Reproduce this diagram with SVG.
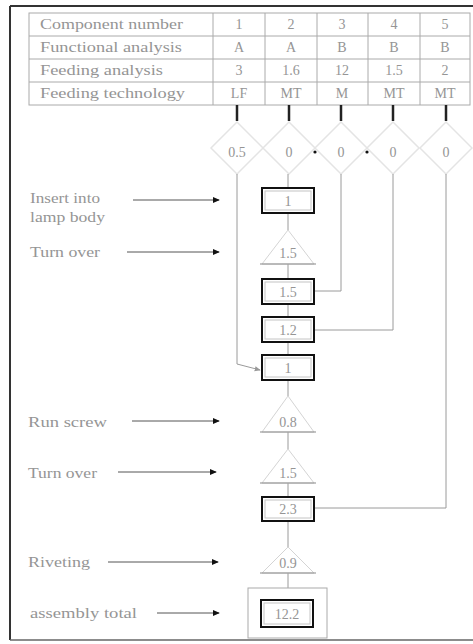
<svg xmlns="http://www.w3.org/2000/svg" width="473" height="644" viewBox="0 0 473 644">
<style>
  .t{font-family:"Liberation Serif","Times New Roman",serif;font-size:14px;fill:#959595}
  .c{text-anchor:middle}
  .grid{stroke:#aaa;stroke-width:1;fill:none}
  .frame{stroke:#333;stroke-width:2;fill:none}
  .ln{stroke:#9a9a9a;stroke-width:1;fill:none}
  .tick{stroke:#222;stroke-width:2.5}
  .box{fill:#fff;stroke:#111;stroke-width:2}
  .inner{fill:none;stroke:#c4c4c4;stroke-width:1}
  .tri{fill:#fff;stroke:#d4d4d4;stroke-width:1}
  .base{stroke:#8a8a8a;stroke-width:1.2}
  .dia{fill:none;stroke:#e4e4e4;stroke-width:1.5}
  .arr{stroke:#555;stroke-width:1;fill:none;marker-end:url(#ah)}
</style>
<defs>
  <marker id="ah" viewBox="0 0 8 8" refX="7" refY="4" markerWidth="7" markerHeight="7" markerUnits="userSpaceOnUse" orient="auto">
    <path d="M0,0.5 L8,4 L0,7.5 Z" fill="#111"/>
  </marker>
  <marker id="ah2" viewBox="0 0 8 8" refX="7" refY="4" markerWidth="6" markerHeight="6" markerUnits="userSpaceOnUse" orient="auto">
    <path d="M0,0.5 L8,4 L0,7.5 Z" fill="#999"/>
  </marker>
</defs>
<rect width="473" height="644" fill="#fff"/>
<g id="frame">
  <line class="frame" x1="10" y1="6" x2="10" y2="640"/>
  <line class="frame" x1="10" y1="6" x2="473" y2="6"/>
  <line x1="10" y1="640" x2="473" y2="640" stroke="#666" stroke-width="1.5"/>
</g>
<g id="table">
  <rect class="grid" x="29" y="13" width="441" height="92"/>
  <line class="grid" x1="29" y1="36" x2="470" y2="36"/>
  <line class="grid" x1="29" y1="59" x2="470" y2="59"/>
  <line class="grid" x1="29" y1="82" x2="470" y2="82"/>
  <line class="grid" x1="213" y1="13" x2="213" y2="105"/>
  <line class="grid" x1="265" y1="13" x2="265" y2="105"/>
  <line class="grid" x1="317" y1="13" x2="317" y2="105"/>
  <line class="grid" x1="368" y1="13" x2="368" y2="105"/>
  <line class="grid" x1="420" y1="13" x2="420" y2="105"/>
  <text class="t" x="40" y="29" textLength="143" lengthAdjust="spacingAndGlyphs">Component number</text>
  <text class="t" x="40" y="52" textLength="142" lengthAdjust="spacingAndGlyphs">Functional analysis</text>
  <text class="t" x="40" y="75" textLength="123" lengthAdjust="spacingAndGlyphs">Feeding analysis</text>
  <text class="t" x="40" y="98" textLength="145" lengthAdjust="spacingAndGlyphs">Feeding technology</text>
  <text class="t c" x="239" y="29">1</text><text class="t c" x="291" y="29">2</text><text class="t c" x="342" y="29">3</text><text class="t c" x="394" y="29">4</text><text class="t c" x="445" y="29">5</text>
  <text class="t c" x="239" y="52">A</text><text class="t c" x="291" y="52">A</text><text class="t c" x="342" y="52">B</text><text class="t c" x="394" y="52">B</text><text class="t c" x="445" y="52">B</text>
  <text class="t c" x="239" y="75">3</text><text class="t c" x="291" y="75">1.6</text><text class="t c" x="342" y="75">12</text><text class="t c" x="394" y="75">1.5</text><text class="t c" x="445" y="75">2</text>
  <text class="t c" x="239" y="98">LF</text><text class="t c" x="291" y="98">MT</text><text class="t c" x="342" y="98">M</text><text class="t c" x="394" y="98">MT</text><text class="t c" x="445" y="98">MT</text>
</g>
<g id="diamonds">
  <g id="d1"><polygon class="dia" points="237,122 263,148 237,174 211,148"/><text class="t c" x="237" y="157">0.5</text></g>
  <g id="d2"><polygon class="dia" points="289,122 315,148 289,174 263,148"/><text class="t c" x="289" y="157">0</text></g>
  <g id="d3"><polygon class="dia" points="341,122 367,148 341,174 315,148"/><text class="t c" x="341" y="157">0</text></g>
  <g id="d4"><polygon class="dia" points="393,122 419,148 393,174 367,148"/><text class="t c" x="393" y="157">0</text></g>
  <g id="d5"><polygon class="dia" points="446,122 472,148 446,174 420,148"/><text class="t c" x="446" y="157">0</text></g>
  <circle cx="315" cy="152" r="1.6" fill="#111"/>
  <circle cx="367" cy="152" r="1.6" fill="#111"/>
</g>
<g id="connectors">
  <line class="tick" x1="237" y1="105" x2="237" y2="121"/>
  <line class="tick" x1="289" y1="105" x2="289" y2="121" stroke="#777"/>
  <line class="tick" x1="341" y1="105" x2="341" y2="121" stroke="#555"/>
  <line class="tick" x1="393" y1="105" x2="393" y2="121"/>
  <line class="tick" x1="446" y1="105" x2="446" y2="121" stroke="#777"/>
  <polyline class="ln" points="237,174 237,364 260,370" marker-end="url(#ah2)"/>
  <polyline class="ln" points="341,174 341,291 315,291"/>
  <polyline class="ln" points="393,174 393,330 315,330"/>
  <polyline class="ln" points="446,174 446,508 315,508"/>
  <line class="ln" x1="288" y1="174" x2="288" y2="188"/>
  <line class="ln" x1="288" y1="213" x2="288" y2="230"/>
  <line class="ln" x1="288" y1="264" x2="288" y2="279"/>
  <line class="ln" x1="288" y1="304" x2="288" y2="317"/>
  <line class="ln" x1="288" y1="342" x2="288" y2="355"/>
  <line class="ln" x1="288" y1="380" x2="288" y2="396"/>
  <line class="ln" x1="288" y1="432" x2="288" y2="449"/>
  <line class="ln" x1="288" y1="483" x2="288" y2="497"/>
  <line class="ln" x1="288" y1="521" x2="288" y2="547"/>
  <line class="ln" x1="288" y1="573" x2="288" y2="600"/>
  <line class="arr" x1="133" y1="200" x2="219" y2="200"/>
  <line class="arr" x1="127" y1="252" x2="219" y2="252"/>
  <line class="arr" x1="132" y1="421" x2="219" y2="421"/>
  <line class="arr" x1="118" y1="472" x2="216" y2="472"/>
  <line class="arr" x1="108" y1="562" x2="218" y2="562"/>
  <line class="arr" x1="157" y1="613" x2="219" y2="613"/>
</g>
<g id="labels">
  <text class="t" x="30" y="203" textLength="70" lengthAdjust="spacingAndGlyphs">Insert into</text>
  <text class="t" x="30" y="222" textLength="75" lengthAdjust="spacingAndGlyphs">lamp body</text>
  <text class="t" x="30" y="257" textLength="70" lengthAdjust="spacingAndGlyphs">Turn over</text>
  <text class="t" x="28" y="427" textLength="79" lengthAdjust="spacingAndGlyphs">Run screw</text>
  <text class="t" x="28" y="478" textLength="69" lengthAdjust="spacingAndGlyphs">Turn over</text>
  <text class="t" x="28" y="567" textLength="62" lengthAdjust="spacingAndGlyphs">Riveting</text>
  <text class="t" x="30" y="618" textLength="107" lengthAdjust="spacingAndGlyphs">assembly total</text>
</g>
<g id="n-box1"><rect class="box" x="262" y="188" width="52" height="25"/><rect class="inner" x="265" y="191" width="46" height="19"/><text class="t c" x="288" y="206">1</text></g>
<g id="n-tri1"><polygon class="tri" points="288,230 314,264 262,264"/><line class="base" x1="260" y1="264" x2="316" y2="264"/><text class="t c" x="288" y="258">1.5</text></g>
<g id="n-box15"><rect class="box" x="262" y="279" width="52" height="25"/><rect class="inner" x="265" y="282" width="46" height="19"/><text class="t c" x="288" y="297">1.5</text></g>
<g id="n-box12"><rect class="box" x="262" y="317" width="52" height="25"/><rect class="inner" x="265" y="320" width="46" height="19"/><text class="t c" x="288" y="335">1.2</text></g>
<g id="n-box1b"><rect class="box" x="262" y="355" width="52" height="25"/><rect class="inner" x="265" y="358" width="46" height="19"/><text class="t c" x="288" y="373">1</text></g>
<g id="n-tri2"><polygon class="tri" points="288,396 314,432 262,432"/><line class="base" x1="260" y1="432" x2="316" y2="432"/><text class="t c" x="288" y="427">0.8</text></g>
<g id="n-tri3"><polygon class="tri" points="288,449 314,483 262,483"/><line class="base" x1="260" y1="483" x2="316" y2="483"/><text class="t c" x="288" y="478">1.5</text></g>
<g id="n-box23"><rect class="box" x="262" y="497" width="52" height="24"/><rect class="inner" x="265" y="500" width="46" height="18"/><text class="t c" x="288" y="514">2.3</text></g>
<g id="n-tri4"><polygon class="tri" points="288,547 314,573 262,573"/><line class="base" x1="260" y1="573" x2="316" y2="573"/><text class="t c" x="288" y="568">0.9</text></g>
<g id="n-total"><rect x="248" y="588" width="79" height="50" fill="#fff" stroke="#aaa" stroke-width="1"/><rect class="box" x="261" y="600" width="52" height="27"/><rect class="inner" x="264" y="603" width="46" height="21"/><text class="t c" x="287" y="619">12.2</text></g>
</svg>
